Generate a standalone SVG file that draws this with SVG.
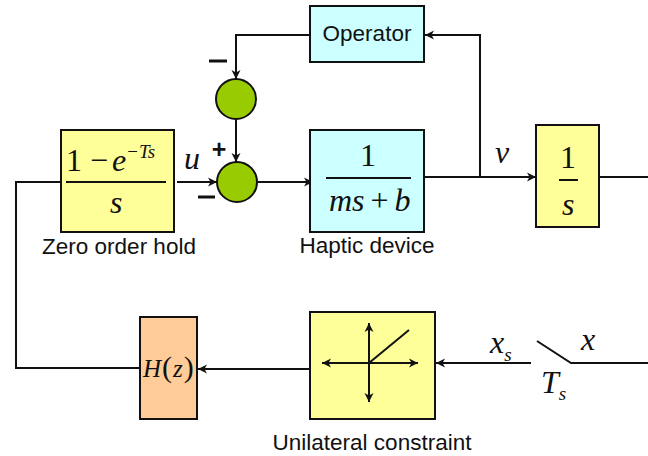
<svg xmlns="http://www.w3.org/2000/svg" width="648" height="456" viewBox="0 0 648 456">
<style>
.box{stroke:#111;stroke-width:2}
.cy{fill:#ccffff}.ye{fill:#ffff99}.or{fill:#ffcc99}
.sum{fill:#99cc00;stroke:#111;stroke-width:2}
.w{fill:none;stroke:#111;stroke-width:2}
.t{font-family:"Liberation Sans",Arial,sans-serif;font-size:22.5px;fill:#111;text-anchor:middle}
.m{font-family:"Liberation Serif","Times New Roman",serif;font-size:32px;fill:#111}
.i{font-style:italic}
.sub{font-size:19px}
.n{font-style:normal}
.b{font-family:"Liberation Sans",Arial,sans-serif;font-weight:bold;font-size:25px;fill:#111;text-anchor:middle}
</style>
<defs>
<marker id="a" markerUnits="userSpaceOnUse" markerWidth="12" markerHeight="12" refX="10" refY="6" orient="auto-start-reverse"><path d="M1 1.5L10 6L1 10.5L3.5 6Z" fill="#111"/></marker>
</defs>
<g id="connectors">
<path class="w" d="M310 35H236V79" marker-end="url(#a)"/>
<path class="w" d="M236 118V162" marker-end="url(#a)"/>
<path class="w" d="M177 182H217" marker-end="url(#a)"/>
<path class="w" d="M258 182H313" marker-end="url(#a)"/>
<path class="w" d="M424 177H536" marker-end="url(#a)"/>
<path class="w" d="M480 177V35H425" marker-end="url(#a)"/>
<path class="w" d="M600 177H648"/>
<path class="w" d="M61 182H16V368H140"/>
<path class="w" d="M310 369H198" marker-end="url(#a)"/>
<path class="w" d="M531 363H436" marker-end="url(#a)"/>
<path class="w" d="M537 341L571 363H648"/>
</g>
<g id="operator"><rect class="box cy" x="310" y="6" width="114" height="56"/><text class="t" x="367" y="41">Operator</text></g>
<g id="sum1"><circle class="sum" cx="236" cy="99" r="20"/></g>
<g id="sum2"><circle class="sum" cx="237" cy="182" r="20"/></g>
<g id="zoh">
<rect class="box ye" x="61" y="130" width="113" height="102"/>
<path class="w" d="M66 182H166"/>
<text class="m" x="66" y="171">1 −<tspan class="i" dx="4">e</tspan><tspan class="sub" dy="-13" dx="1">−</tspan><tspan class="sub i" dx="1">Ts</tspan></text>
<text class="m i" x="110" y="213">s</text>
<text class="t" x="119" y="254">Zero order hold</text>
</g>
<g id="haptic">
<rect class="box cy" x="310" y="130" width="114" height="102"/>
<path class="w" d="M326 178H411"/>
<text class="m" x="360" y="166">1</text>
<text class="m i" x="329" y="211">ms<tspan class="n" dx="6">+</tspan><tspan dx="6">b</tspan></text>
<text class="t" x="367" y="253">Haptic device</text>
</g>
<g id="integrator">
<rect class="box ye" x="536" y="125" width="63" height="102"/>
<path class="w" d="M559 180H578"/>
<text class="m" x="560" y="168">1</text>
<text class="m i" x="562" y="215">s</text>
</g>
<g id="hz">
<rect class="box or" x="140" y="317" width="57" height="102"/>
<text class="m i" style="font-size:25px" x="143" y="377">H<tspan class="n" dx="1" style="font-size:30px">(</tspan><tspan dx="1">z</tspan><tspan class="n" dx="1" style="font-size:30px">)</tspan></text>
</g>
<g id="constraint">
<rect class="box ye" x="310" y="312" width="125" height="107"/>
<path class="w" d="M322 363H418" marker-start="url(#a)" marker-end="url(#a)"/>
<path class="w" d="M369 323V402" marker-start="url(#a)" marker-end="url(#a)"/>
<path class="w" d="M369 363L409 330"/>
<text class="t" x="372" y="450">Unilateral constraint</text>
</g>
<g id="labels">
<text class="m i" x="184" y="169">u</text>
<text class="m i" x="495" y="163">v</text>
<text class="m i" x="490" y="353">x<tspan class="sub" dy="8">s</tspan></text>
<text class="m i" x="581" y="350">x</text>
<text class="m i" x="541" y="393">T<tspan class="sub" dy="7">s</tspan></text>
<text class="b" x="219" y="158">+</text>
<path class="w" style="stroke-width:3" d="M209 61H227M198 197H215"/>
</g>
</svg>
